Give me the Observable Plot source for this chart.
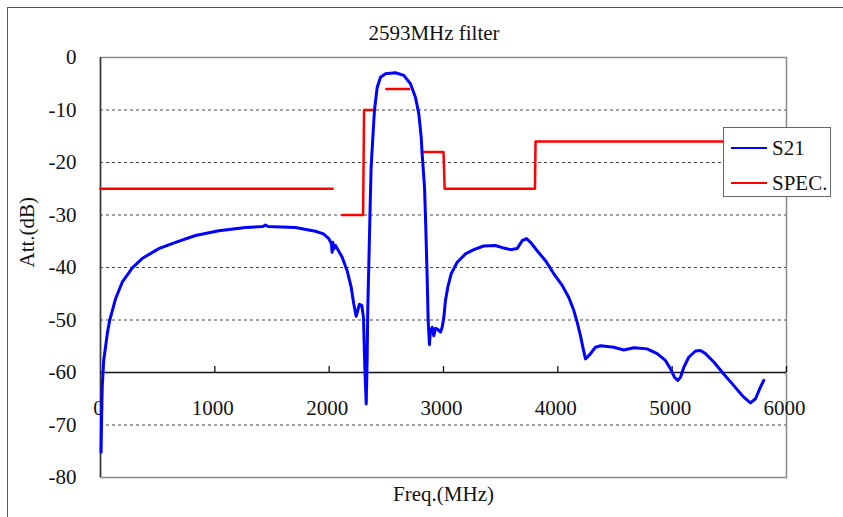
<!DOCTYPE html>
<html>
<head>
<meta charset="utf-8">
<script src="https://cdn.jsdelivr.net/npm/d3@7"></script>
<script src="https://cdn.jsdelivr.net/npm/@observablehq/plot@0.6"></script>
<style>
  html, body { margin: 0; padding: 0; background: #fff; }
  #wrap { position: relative; width: 843px; height: 517px; overflow: hidden; font-family: "Liberation Serif", serif; }
  #wrap svg { position: absolute; left: 0; top: 0; }
  #border { position: absolute; left: 7px; top: 7px; width: 850px; height: 520px; border-top: 1.5px solid #555; border-left: 1.5px solid #555; pointer-events: none; }
  #title { position: absolute; top: 20px; left: 334px; width: 200px; text-align: center; font-size: 21px; line-height: 26px; color: #111; }
  #legend { position: absolute; left: 723px; top: 127px; width: 108px; height: 70px; background: #fff; border: 1px solid #666; box-sizing: border-box; }
  .item { position: absolute; left: 7px; height: 24px; display: flex; align-items: center; font-size: 21px; color: #111; }
  .swatch { width: 36px; height: 0; border-top: 2.5px solid; margin-right: 5px; }
</style>
</head>
<body>
<div id="wrap">
  <div id="chart"></div>
  <div id="border"></div>
  <div id="title">2593MHz filter</div>
  <div id="legend">
    <div class="item" style="top:8px"><span class="swatch" style="border-color:#0000ff"></span>S21</div>
    <div class="item" style="top:43px"><span class="swatch" style="border-color:#ff0000"></span>SPEC.</div>
  </div>
</div>
<script>
// ---- data ----
const s21Freq = [5, 10, 15, 22, 29, 45, 60, 81, 100, 131, 190, 277, 364, 510, 656, 831, 1035, 1268, 1420, 1443, 1465, 1705, 1880, 1950, 1997, 2020, 2026, 2032, 2040, 2055, 2113, 2157, 2192, 2215, 2236, 2265, 2285, 2300, 2312, 2324, 2332, 2338, 2353, 2361, 2367, 2382, 2396, 2420, 2449, 2493, 2580, 2653, 2711, 2755, 2784, 2805, 2813, 2834, 2845, 2857, 2866, 2877, 2886, 2901, 2915, 2930, 2944, 2974, 2988, 3003, 3017, 3038, 3067, 3120, 3192, 3265, 3352, 3455, 3527, 3586, 3644, 3688, 3726, 3761, 3819, 3892, 3965, 4038, 4096, 4140, 4169, 4198, 4222, 4242, 4271, 4329, 4373, 4490, 4577, 4665, 4781, 4869, 4941, 4985, 5020, 5049, 5073, 5102, 5145, 5204, 5248, 5291, 5364, 5451, 5539, 5626, 5685, 5729, 5772, 5801];
const s21Db = [-75.2, -68, -62.8, -60, -57.5, -55, -52.5, -50, -48.5, -46, -42.8, -40.1, -38.3, -36.4, -35.2, -33.9, -33, -32.4, -32.2, -31.9, -32.2, -32.4, -33.1, -33.6, -34.5, -35.5, -37.1, -35.2, -36.5, -35.8, -38, -40.6, -43.7, -46.9, -49.3, -47, -47.2, -49.5, -59, -66, -57.7, -47.6, -33.6, -26, -20.9, -15.2, -10.1, -5.7, -3.75, -3.1, -2.9, -3.4, -5, -7.6, -10.7, -15.2, -18.3, -24.7, -32.3, -41.8, -50.1, -54.7, -52, -51.4, -53, -51.6, -51.7, -52.3, -51.4, -49.5, -46.3, -43.7, -41.2, -39, -37.4, -36.6, -35.9, -35.8, -36.3, -36.6, -36.4, -34.9, -34.5, -35.2, -36.8, -38.7, -41.2, -43.4, -45.7, -48.2, -50.4, -53, -55.5, -57.4, -56.8, -55.2, -54.9, -55.2, -55.7, -55.3, -55.5, -56.4, -57.7, -59.3, -60.9, -61.5, -60.9, -59, -57.1, -55.9, -55.8, -56.4, -58, -60.3, -62.5, -64.7, -65.8, -65, -62.8, -61.5];

// SPEC mask (NaN = break between segments)
const specFreq = [0, 2030, NaN, 2115, 2297, 2305, 2400, NaN, 2500, 2700, NaN, 2810, 3000, 3010, 3800, 3805, 6000];
const specDb   = [-25, -25, NaN, -30, -30, -10, -10, NaN, -6, -6, NaN, -18, -18, -25, -25, -16, -16];

const xTicks = [0, 1000, 2000, 3000, 4000, 5000, 6000];
const yTicks = [0, -10, -20, -30, -40, -50, -60, -70, -80];
const gridDb = [-10, -20, -30, -40, -50, -70];
const xAxisAt = -60;

const s21 = s21Freq.map((f, i) => ({f, db: s21Db[i]}));
const spec = specFreq.map((f, i) => ({f, db: specDb[i]}));

const chart = Plot.plot({
  width: 843,
  height: 517,
  marginLeft: 100,
  marginRight: 57,
  marginTop: 57,
  marginBottom: 40,
  style: {fontFamily: "Liberation Serif, serif", fontSize: "21px", color: "#111", background: "transparent"},
  x: {domain: [0, 6000], axis: null},
  y: {domain: [-80, 0]},
  marks: [
    Plot.ruleY(gridDb, {stroke: "#444", strokeDasharray: "3,3", strokeWidth: 1}),
    Plot.frame({stroke: "#8a8a8a", strokeWidth: 1.5}),
    Plot.ruleX([0], {stroke: "#333", strokeWidth: 1.5}),
    Plot.axisY(yTicks, {tickSize: 0, tickPadding: 24, fontSize: 21, label: null, tickFormat: d => String(d)}),
    Plot.ruleY([xAxisAt], {stroke: "#111", strokeWidth: 1.3}),
    Plot.ruleX(xTicks.slice(1), {x: d => d, y1: xAxisAt, y2: xAxisAt, insetTop: -6, stroke: "#111", strokeWidth: 1.3}),
    Plot.text(xTicks, {x: d => d, y: xAxisAt, dy: 36, dx: -2, text: d => String(d), fontSize: 21}),
    Plot.line(spec, {x: "f", y: "db", stroke: "#ff0000", strokeWidth: 2.5, curve: "linear"}),
    Plot.line(s21, {x: "f", y: "db", stroke: "#0000ff", strokeWidth: 3, curve: "linear", strokeLinejoin: "round"}),
    Plot.text(["Freq.(MHz)"], {frameAnchor: "bottom", dy: 23, text: d => d, fontSize: 21}),
    Plot.text(["Att.(dB)"], {frameAnchor: "left", dx: -73, rotate: -90, text: d => d, fontSize: 21})
  ]
});
document.getElementById("chart").appendChild(chart);
</script>
</body>
</html>
